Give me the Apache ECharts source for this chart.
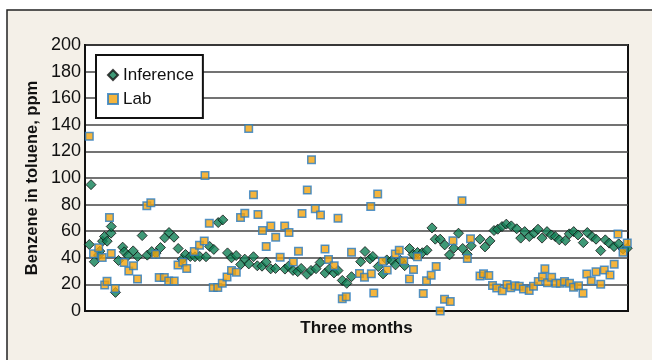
<!DOCTYPE html>
<html>
<head>
<meta charset="utf-8">
<script src="https://cdn.jsdelivr.net/npm/echarts@6/dist/echarts.min.js"></script>
<style>
  html, body { margin: 0; padding: 0; background: #fff; }
  #chart { width: 652px; height: 360px; }
</style>
</head>
<body>
<div id="chart"></div>
<script>
// Benzene content in toluene over three months: soft-sensor inference vs lab samples.
var yTicks = [0, 20, 40, 60, 80, 100, 120, 140, 160, 180, 200];

var inferenceDay = [
  0.72, 1.0, 1.55, 2.25, 2.47, 2.92, 3.25, 3.7, 4.33, 4.38, 5.08, 5.58, 6.28, 6.55, 7.17, 8.03,
  8.78, 9.53, 10.38, 11.12, 11.83, 12.58, 13.28, 14.0, 14.83, 15.53, 16.2, 16.75, 17.55, 18.33,
  19.12, 20.17, 20.78, 21.47, 22.2, 22.97, 23.75, 24.42, 25.2, 25.95, 26.63, 27.3, 28.08, 28.72,
  29.5, 30.2, 30.95, 31.75, 33.33, 33.92, 34.67, 35.45, 36.03, 37.0, 37.67, 38.5, 39.2, 40.03,
  40.72, 41.5, 42.17, 42.88, 43.63, 44.42, 45.95, 46.67, 47.5, 47.97, 48.88, 49.67, 50.3, 51.13,
  51.75, 52.58, 53.28, 54.08, 54.67, 55.42, 56.22, 57.0, 57.83, 58.38, 59.2, 59.95, 60.75, 61.47,
  62.25, 62.95, 63.7, 64.38, 65.83, 66.67, 67.5, 68.17, 68.78, 69.5, 70.22, 71.05, 71.95, 72.62,
  73.28, 74.05, 74.83, 75.5, 76.17, 77.0, 77.72, 78.38, 79.05, 80.05, 80.72, 81.45, 82.17, 83.05,
  83.72, 84.5, 85.17, 85.95, 86.72, 87.38, 88.17, 88.95, 89.67, 90.38
];
var inferenceValue = [
  50, 95, 37, 42, 45, 52.5, 56, 52.5, 58.5, 63.5, 14, 38, 48, 44.5, 41.7, 45.2,
  41, 56.7, 42, 44.7, 43.5, 47.7, 55, 59, 55.5, 47, 39, 42.5, 41, 40.8,
  41, 40.8, 48.5, 46.3, 66.5, 68.5, 43.7, 40, 41.7, 35, 39, 35.4, 40.8, 34,
  33.7, 36.8, 31.7, 32, 31.5, 33.7, 30.5, 29.6, 32, 27.6, 30.5, 31.8, 36.5, 28.5,
  31.5, 28.6, 30.4, 23, 20.8, 25.8, 37.1, 44.7, 39.2, 41, 33.4, 27.9, 38.4, 38,
  34.7, 38, 34.1, 47, 42.5, 44, 43.8, 45.7, 62.5, 54, 54, 49.7, 42.2, 47.2,
  58.5, 47, 42.7, 49, 54, 48.2, 52.7, 60.5, 61.5, 63.5, 65.3, 64, 61.8, 54.8,
  59.7, 56, 58.5, 61.5, 54.8, 59.7, 57.2, 56, 53.5, 53, 58, 59.7, 57.2, 51.4,
  59, 56, 54, 45.4, 53.5, 51, 48.4, 50.5, 46.7, 47.2
];

var labDay = [
  0.72, 1.42, 2.28, 2.87, 3.28, 3.67, 4.08, 4.38, 5.03, 6.53, 7.3, 8.08, 8.75, 10.3, 10.97, 11.78,
  12.37, 13.22, 13.95, 14.87, 15.5, 16.3, 16.95, 18.22, 19.08, 19.88, 20.0, 20.72, 21.38, 22.13,
  22.88, 23.67, 24.42, 25.22, 25.92, 26.63, 27.28, 28.08, 28.83, 29.58, 30.2, 30.97, 31.78, 32.53,
  33.28, 34.0, 34.72, 35.58, 36.17, 37.05, 37.75, 38.38, 39.25, 40.0, 40.58, 41.53, 42.17, 42.88,
  43.55, 44.42, 45.75, 46.58, 47.62, 47.72, 48.13, 48.78, 49.58, 50.37, 51.72, 52.38, 53.12, 54.08,
  54.75, 55.42, 56.38, 56.92, 57.7, 58.53, 59.2, 59.92, 60.88, 61.33, 62.83, 63.72, 64.25, 65.83,
  66.42, 67.3, 67.92, 68.62, 69.55, 70.33, 70.95, 71.67, 72.38, 73.08, 74.03, 74.75, 75.55, 76.25,
  76.65, 77.08, 77.77, 78.5, 79.22, 79.92, 80.75, 81.42, 82.25, 83.0, 83.63, 84.38, 85.17, 85.95,
  86.55, 87.5, 88.2, 88.83, 89.67, 90.38
];
var labValue = [
  131.3, 43, 47.5, 40.3, 19.5, 22.4, 70.3, 43.3, 17, 36.4, 30, 34, 24, 79.2, 81.4, 42.7,
  25.2, 25.2, 22.5, 22.5, 34.6, 36.7, 32, 44.8, 49.4, 52.7, 101.9, 65.9, 17.6, 17.6,
  20.8, 25.6, 30.4, 29.2, 70.3, 73.5, 137.3, 87.4, 72.5, 60.5, 48.5, 63.9, 55.5, 40.4,
  63.9, 59, 36.8, 45, 73.3, 90.9, 113.8, 76.9, 72.1, 46.7, 38.7, 34, 69.7, 9.2,
  10.7, 44.2, 28.2, 25.4, 78.6, 28, 13.5, 87.9, 37.5, 30.9, 42.9, 45.6, 37.7, 24,
  31.2, 40.7, 13.2, 22.8, 26.8, 33.4, 0, 8.8, 7.2, 52.9, 82.9, 39.5, 54.3, 26.3,
  28, 26.6, 19.2, 17.3, 15.2, 20, 17.4, 18.9, 18.6, 16.6, 15.5, 18.6, 22.2, 25.6,
  31.7, 21.2, 25.4, 20.8, 20.8, 22.1, 20.8, 17.8, 18.9, 13.3, 27.9, 22.8, 29.6, 20.2,
  30.8, 27, 35.2, 57.9, 44.2, 51.2
];

function pairs(xs, ys) {
  return xs.map(function (x, i) { return [x, ys[i]]; });
}

var FONT = "'Liberation Sans', Arial, sans-serif";

var chart = echarts.init(document.getElementById('chart'), null, { renderer: 'canvas' });
chart.setOption({
  animation: false,
  backgroundColor: '#ffffff',
  graphic: [{
    type: 'rect',
    z: -10,
    silent: true,
    shape: { x: 7, y: 10, width: 700, height: 400 },
    style: { fill: '#f4f0e8', stroke: '#222', lineWidth: 1.5 }
  }],
  grid: {
    left: 85, top: 45, width: 543, height: 266,
    show: true, backgroundColor: '#ffffff', borderColor: '#111', borderWidth: 2
  },
  legend: {
    orient: 'vertical',
    left: 96, top: 55,
    padding: [11, 9, 10, 11],
    itemGap: 6,
    itemWidth: 10, itemHeight: 10,
    backgroundColor: '#ffffff',
    borderColor: '#111', borderWidth: 2,
    textStyle: { fontFamily: FONT, fontSize: 17, lineHeight: 18, color: '#111' },
    data: ['Inference', 'Lab']
  },
  xAxis: {
    type: 'value', min: 0, max: 90.5,
    name: 'Three months', nameLocation: 'middle', nameGap: 9,
    nameTextStyle: { fontFamily: FONT, fontSize: 17, fontWeight: 'bold', color: '#111', verticalAlign: 'top' },
    axisLine: { show: true, lineStyle: { color: '#111', width: 2 } },
    axisTick: { show: false }, axisLabel: { show: false }, splitLine: { show: false }
  },
  yAxis: {
    type: 'value', min: yTicks[0], max: yTicks[yTicks.length - 1], interval: 20,
    name: 'Benzene in toluene, ppm', nameLocation: 'middle', nameGap: 44,
    nameMoveOverlap: false,
    nameTextStyle: { fontFamily: FONT, fontSize: 16.5, fontWeight: 'bold', color: '#111' },
    axisLine: { show: true, lineStyle: { color: '#111', width: 2 } },
    axisTick: { show: false },
    axisLabel: { fontFamily: FONT, fontSize: 18, color: '#111', margin: 4 },
    splitLine: { show: true, lineStyle: { color: '#444', width: 1.5 } }
  },
  series: [{
    name: 'Inference',
    type: 'scatter',
    symbol: 'diamond',
    symbolSize: 10,
    itemStyle: { color: '#0f7f55', borderColor: '#111', borderWidth: 1 },
    data: pairs(inferenceDay, inferenceValue)
  }, {
    name: 'Lab',
    type: 'scatter',
    symbol: 'rect',
    symbolSize: 7.5,
    itemStyle: { color: '#f2a20c', borderColor: '#2b7cc0', borderWidth: 1.5 },
    data: pairs(labDay, labValue)
  }]
});
</script>
</body>
</html>
